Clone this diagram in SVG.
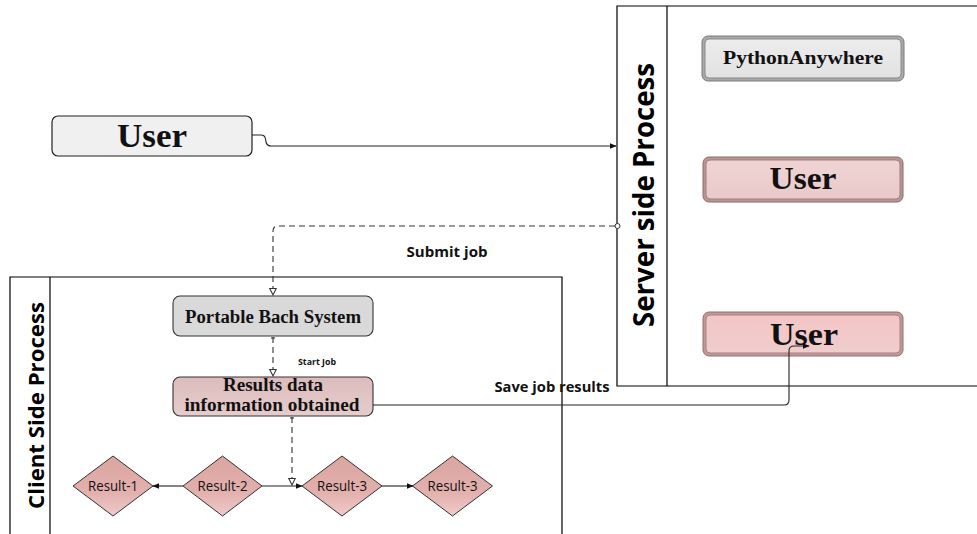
<svg xmlns="http://www.w3.org/2000/svg" width="977" height="534" viewBox="0 0 977 534">
  <defs>
    <style>
      .lane { fill: none; stroke: #000; stroke-width: 1.2; }
      .laneTitle { font-family: "Open Sans", "Liberation Sans", sans-serif; font-weight: bold; fill: #000; }
      .serif { font-family: "Liberation Serif", "DejaVu Serif", serif; font-weight: bold; fill: #111; text-anchor: middle; }
      .sans { font-family: "Open Sans", "Liberation Sans", sans-serif; fill: #111; }
      .label { font-family: "Open Sans", "Liberation Sans", sans-serif; font-weight: bold; fill: #111; text-anchor: middle; }
      .plain { fill: none; stroke: #222; stroke-width: 1.1; }
      .dash { fill: none; stroke: #333; stroke-width: 1.1; stroke-dasharray: 6 4; }
      .flat { stroke: #333; stroke-width: 1.1; }
      .diamond { fill: url(#diamondFill); stroke: #333; stroke-width: 1; }
    </style>
    <linearGradient id="diamondFill" x1="0" y1="0" x2="0" y2="1">
      <stop offset="0" stop-color="#dba49f"/>
      <stop offset="0.6" stop-color="#e2b0ad"/>
      <stop offset="1" stop-color="#efcaca"/>
    </linearGradient>
    <linearGradient id="resultsFill" x1="0" y1="0" x2="0" y2="1">
      <stop offset="0" stop-color="#dcbcbc"/>
      <stop offset="1" stop-color="#e6cccc"/>
    </linearGradient>
    <linearGradient id="pinkBevel" x1="0" y1="0" x2="0" y2="1">
      <stop offset="0" stop-color="#f0d4d4"/>
      <stop offset="1" stop-color="#e9c9c9"/>
    </linearGradient>
    <linearGradient id="pinkBevel2" x1="0" y1="0" x2="0" y2="1">
      <stop offset="0" stop-color="#f3c6c6"/>
      <stop offset="1" stop-color="#f0cccc"/>
    </linearGradient>
    <linearGradient id="grayBevel" x1="0" y1="0" x2="0" y2="1">
      <stop offset="0" stop-color="#ececec"/>
      <stop offset="1" stop-color="#e2e2e2"/>
    </linearGradient>
    <marker id="solidArrow" viewBox="0 0 10 10" refX="9" refY="5" markerWidth="7" markerHeight="7" markerUnits="userSpaceOnUse" orient="auto">
      <path d="M0,1 L10,5 L0,9 Z" fill="#111"/>
    </marker>
    <marker id="openArrow" viewBox="0 0 10 10" refX="9" refY="5" markerWidth="8" markerHeight="8" markerUnits="userSpaceOnUse" orient="auto">
      <path d="M1,1 L9,5 L1,9 Z" fill="#fff" stroke="#333" stroke-width="1.3"/>
    </marker>
  </defs>

  <rect width="977" height="534" fill="#fff"/>

  <!-- swim lanes -->
  <g id="server-lane">
    <path class="lane" d="M980,6 L617,6 L617,386 L980,386"/>
    <line class="lane" x1="667" y1="6" x2="667" y2="386"/>
    <text class="laneTitle" font-size="28" transform="translate(654,327) rotate(-90)" textLength="264" lengthAdjust="spacingAndGlyphs">Server side Process</text>
  </g>
  <g id="client-lane">
    <path class="lane" d="M10,540 L10,277 L562,277 L562,540"/>
    <line class="lane" x1="50" y1="277" x2="50" y2="540"/>
    <text class="laneTitle" font-size="22" transform="translate(44,509) rotate(-90)" textLength="207" lengthAdjust="spacingAndGlyphs">Client Side Process</text>
  </g>

  <!-- nodes -->
  <g id="user-top">
    <rect x="52" y="116" width="200" height="40" rx="6" fill="#f0f0f0" stroke="#222" stroke-width="1.2"/>
    <text class="serif" x="152" y="147" font-size="33" textLength="70" lengthAdjust="spacingAndGlyphs">User</text>
  </g>

  <g id="python-anywhere">
    <rect x="702" y="36" width="202" height="45" rx="6" fill="#a9a9a9" stroke="#7a7a7a" stroke-width="1"/>
    <rect x="705" y="39" width="196" height="39" rx="4" fill="url(#grayBevel)" stroke="#8a8a8a" stroke-width="1"/>
    <text class="serif" x="803" y="64" font-size="18" textLength="160" lengthAdjust="spacingAndGlyphs">PythonAnywhere</text>
  </g>

  <g id="user-server-1">
    <rect x="703" y="157" width="200" height="45" rx="6" fill="#b89696" stroke="#8c6a6a" stroke-width="1"/>
    <rect x="706" y="160" width="194" height="39" rx="4" fill="url(#pinkBevel)" stroke="#9e7c7c" stroke-width="1"/>
    <text class="serif" x="803" y="189" font-size="32" textLength="67" lengthAdjust="spacingAndGlyphs">User</text>
  </g>

  <g id="user-server-2">
    <rect x="703" y="312" width="200" height="44" rx="6" fill="#c09898" stroke="#946e6e" stroke-width="1"/>
    <rect x="706" y="315" width="194" height="38" rx="4" fill="url(#pinkBevel2)" stroke="#a88282" stroke-width="1"/>
    <text class="serif" x="804" y="345" font-size="32" textLength="68" lengthAdjust="spacingAndGlyphs">User</text>
  </g>

  <g id="portable-bach">
    <rect x="173" y="296" width="200" height="40" rx="7" fill="#d9d9d9" stroke="#333" stroke-width="1.1"/>
    <text class="serif" x="273" y="323" font-size="18" textLength="176" lengthAdjust="spacingAndGlyphs">Portable Bach System</text>
  </g>

  <g id="results-data">
    <rect x="173" y="377" width="200" height="39" rx="7" fill="url(#resultsFill)" stroke="#333" stroke-width="1.1"/>
    <text class="serif" x="273" y="391" font-size="19" textLength="100" lengthAdjust="spacingAndGlyphs">Results data</text>
    <text class="serif" x="272" y="411" font-size="19" textLength="175" lengthAdjust="spacingAndGlyphs">information obtained</text>
  </g>

  <g id="result-1">
    <polygon class="diamond" points="113,456 153,486 113,516 73,486"/>
    <text class="sans" x="113" y="491" font-size="14" text-anchor="middle" textLength="50" lengthAdjust="spacingAndGlyphs">Result-1</text>
  </g>
  <g id="result-2">
    <polygon class="diamond" points="222.5,456 262,486 222.5,516 183,486"/>
    <text class="sans" x="222.5" y="491" font-size="14" text-anchor="middle" textLength="50" lengthAdjust="spacingAndGlyphs">Result-2</text>
  </g>
  <g id="result-3a">
    <polygon class="diamond" points="342,456 382,486 342,516 302,486"/>
    <text class="sans" x="342" y="491" font-size="14" text-anchor="middle" textLength="50" lengthAdjust="spacingAndGlyphs">Result-3</text>
  </g>
  <g id="result-3b">
    <polygon class="diamond" points="452.5,456 492.5,486 452.5,516 412.5,486"/>
    <text class="sans" x="452.5" y="491" font-size="14" text-anchor="middle" textLength="50" lengthAdjust="spacingAndGlyphs">Result-3</text>
  </g>

  <!-- connectors, drawn above the nodes -->
  <g id="connectors">
    <path class="plain" d="M252,135 L261,135 Q265,135 265.5,139 L266,142 Q267,146 271,146 L616,146" marker-end="url(#solidArrow)"/>
    <path class="dash" d="M615,226 L278,226 Q273,226 273,231 L273,295" marker-end="url(#openArrow)"/>
    <circle cx="617.5" cy="226" r="2.5" fill="#fff" stroke="#333" stroke-width="1"/>
    <path class="dash" d="M273,337 L273,376" marker-end="url(#openArrow)"/>
    <line class="flat" x1="271" y1="338" x2="275" y2="338"/>
    <path class="dash" d="M292,417 L292,485" marker-end="url(#openArrow)"/>
    <line class="flat" x1="290" y1="418" x2="294" y2="418"/>
    <path class="plain" d="M373,405 L784,405 Q789,405 789,400 L789,351 Q789,346 794,346 L809,346" marker-end="url(#solidArrow)"/>
    <path class="plain" d="M183,486 L153,486" marker-end="url(#solidArrow)"/>
    <path class="plain" d="M262,486 L302,486" marker-end="url(#solidArrow)"/>
    <path class="plain" d="M382,486 L413,486" marker-end="url(#solidArrow)"/>
  </g>

  <!-- connector labels -->
  <text class="label" x="447" y="257" font-size="14" textLength="81" lengthAdjust="spacingAndGlyphs">Submit job</text>
  <text class="label" x="317" y="365" font-size="8" textLength="38" lengthAdjust="spacingAndGlyphs">Start Job</text>
  <text class="label" x="552" y="392" font-size="14" textLength="115" lengthAdjust="spacingAndGlyphs">Save job results</text>
</svg>
